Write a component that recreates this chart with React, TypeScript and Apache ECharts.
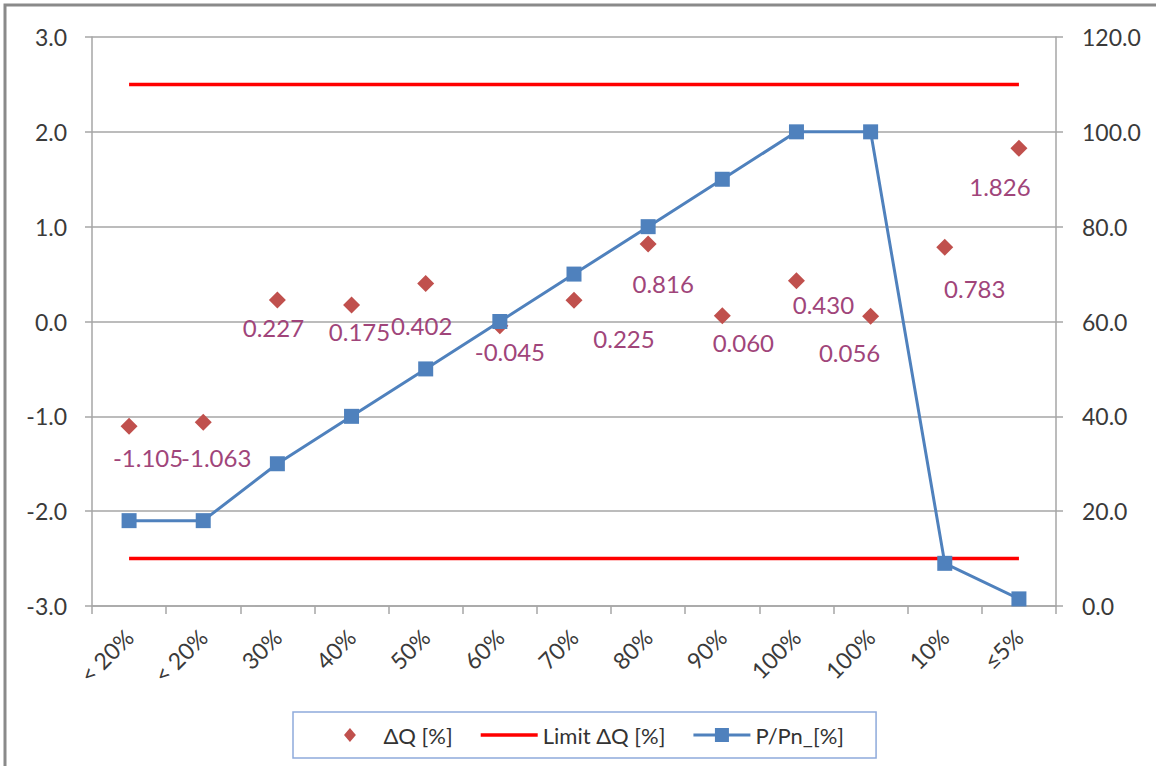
import React, { useEffect, useRef } from "react";
import * as echarts from "echarts";

const categories = ["< 20%", "< 20%", "30%", "40%", "50%", "60%", "70%", "80%", "90%", "100%", "100%", "10%", "≤5%"];
const deltaQ = [-1.105, -1.063, 0.227, 0.175, 0.402, -0.045, 0.225, 0.816, 0.06, 0.43, 0.056, 0.783, 1.826];
const limitUpper = [2.5, 2.5, 2.5, 2.5, 2.5, 2.5, 2.5, 2.5, 2.5, 2.5, 2.5, 2.5, 2.5];
const limitLower = [-2.5, -2.5, -2.5, -2.5, -2.5, -2.5, -2.5, -2.5, -2.5, -2.5, -2.5, -2.5, -2.5];
const pPn = [18, 18, 30, 40, 50, 60, 70, 80, 90, 100, 100, 9, 1.5];

// label placement (style only): pixel offsets of each ΔQ label from its marker
const labelOffsets: [number, number][] = [
  [19, 31], [13, 35], [-4, 28], [8, 27], [-4, 42], [10, 26], [50, 38],
  [15, 39], [21, 27], [27, 24], [-21, 36], [30, 41], [-19, 38],
];

const FONT = "Lato, 'Open Sans', sans-serif";
const AXIS_TEXT = "#3a3a3a";
const GRID = "#a6a6a6";

export default function App() {
  const ref = useRef<HTMLDivElement>(null);
  useEffect(() => {
    if (!ref.current) return;
    const chart = echarts.init(ref.current, null, { renderer: "svg" });
    const option: any = {
      animation: false,
      backgroundColor: "#ffffff",
      textStyle: { fontFamily: FONT },
      grid: { left: 92, right: 100, top: 37, bottom: 160, containLabel: false },
      graphic: [
        {
          type: "rect",
          silent: true,
          z: -10,
          shape: { x: 5, y: 5, width: 1300, height: 900 },
          style: { fill: "none", stroke: "#8a8a8a", lineWidth: 3 },
        },
      ],
      legend: {
        left: 293,
        top: 712,
        orient: "horizontal",
        borderColor: "#8eaadb",
        borderWidth: 1.5,
        borderRadius: 0,
        padding: [12, 32, 12, 51],
        itemGap: 28,
        itemWidth: 57,
        itemHeight: 14,
        symbolKeepAspect: true,
        textStyle: { fontSize: 22, color: "#333333", fontFamily: FONT },
        data: [
          { name: "ΔQ [%]", icon: "path://M0,-1L0.85,0L0,1L-0.85,0Z" },
          { name: "Limit ΔQ [%]", icon: "path://M0,5.25H57V8.75H0Z", itemStyle: { color: "#ff0000" } },
          {
            name: "P/Pn_[%]",
            icon: "path://M0,5.5H21.5V0H35.5V5.5H57V8.5H35.5V14H21.5V8.5H0Z",
            itemStyle: { color: "#4f81bd" },
          },
        ],
      },
      xAxis: {
        type: "category",
        data: categories,
        boundaryGap: true,
        axisLine: { show: true, onZero: false, lineStyle: { color: GRID, width: 1.5 } },
        axisTick: { show: true, alignWithLabel: false, length: 8, lineStyle: { color: GRID, width: 1.5 } },
        axisLabel: {
          interval: 0,
          rotate: 45,
          margin: 27,
          fontSize: 23,
          color: AXIS_TEXT,
          fontFamily: FONT,
        },
        splitLine: { show: false },
      },
      yAxis: [
        {
          type: "value",
          min: -3,
          max: 3,
          interval: 1,
          position: "left",
          axisLine: { show: true, lineStyle: { color: GRID, width: 1.5 } },
          axisTick: { show: true, length: 7, lineStyle: { color: GRID, width: 1.5 } },
          axisLabel: {
            margin: 25,
            fontSize: 23,
            color: AXIS_TEXT,
            fontFamily: FONT,
            formatter: (v: number) => v.toFixed(1),
          },
          splitLine: { show: true, lineStyle: { color: GRID, width: 1.5 } },
        },
        {
          type: "value",
          min: 0,
          max: 120,
          interval: 20,
          position: "right",
          axisLine: { show: true, lineStyle: { color: GRID, width: 1.5 } },
          axisTick: { show: true, length: 7, lineStyle: { color: GRID, width: 1.5 } },
          axisLabel: {
            margin: 26,
            fontSize: 23,
            color: AXIS_TEXT,
            fontFamily: FONT,
            formatter: (v: number) => v.toFixed(1),
          },
          splitLine: { show: false },
        },
      ],
      series: [
        {
          name: "ΔQ [%]",
          type: "scatter",
          yAxisIndex: 0,
          symbol: "diamond",
          symbolSize: 17,
          itemStyle: { color: "#c0504d", opacity: 1 },
          z: 2,
          label: {
            show: true,
            position: "inside",
            fontSize: 24,
            color: "#a0457a",
            fontFamily: FONT,
            formatter: (p: any) => Number(p.value).toFixed(3),
          },
          data: deltaQ.map((v, i) => ({ value: v, label: { offset: labelOffsets[i] } })),
        },
        {
          name: "Limit ΔQ [%]",
          type: "line",
          yAxisIndex: 0,
          symbol: "none",
          lineStyle: { color: "#ff0000", width: 3.5 },
          itemStyle: { color: "#ff0000" },
          z: 3,
          data: limitUpper,
        },
        {
          name: "Limit ΔQ [%]",
          type: "line",
          yAxisIndex: 0,
          symbol: "none",
          lineStyle: { color: "#ff0000", width: 3.5 },
          itemStyle: { color: "#ff0000" },
          z: 3,
          data: limitLower,
        },
        {
          name: "P/Pn_[%]",
          type: "line",
          yAxisIndex: 1,
          symbol: "rect",
          symbolSize: 15,
          lineStyle: { color: "#4f81bd", width: 3 },
          itemStyle: { color: "#4f81bd" },
          z: 4,
          data: pPn,
        },
      ],
    };
    chart.setOption(option);
    return () => chart.dispose();
  }, []);
  return (
    <div
      ref={ref}
      style={{ position: "absolute", left: 0, top: 0, width: 1156, height: 766 }}
    />
  );
}
